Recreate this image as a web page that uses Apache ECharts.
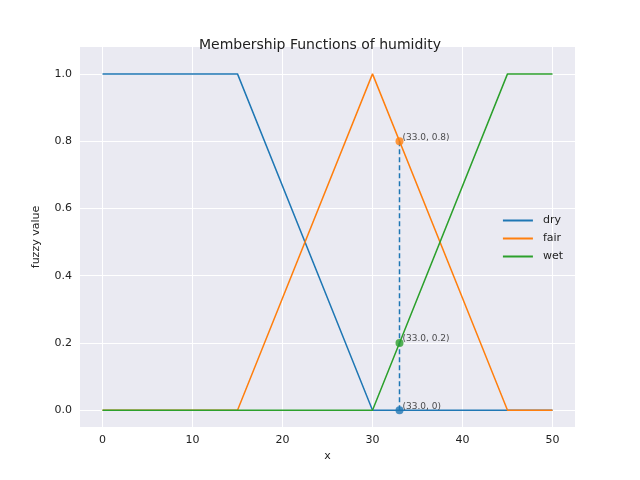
<!DOCTYPE html>
<html>
<head>
<meta charset="utf-8">
<script src="https://cdn.jsdelivr.net/npm/echarts@6/dist/echarts.min.js"></script>
<style>html,body{margin:0;padding:0;background:#fff}#main{width:640px;height:480px}</style>
</head>
<body>
<div id="main"></div>
<script>
var dry = [[0, 1], [15, 1], [30, 0], [50, 0]];
var fair = [[0, 0], [15, 0], [30, 1], [45, 0], [50, 0]];
var wet = [[0, 0], [30, 0], [45, 1], [50, 1]];
var cut = [[33, 0], [33, 0.8]];
var points = [[33, 0.8, '(33.0, 0.8)', '#ff7f0e'], [33, 0.2, '(33.0, 0.2)', '#2ca02c'], [33, 0, '(33.0, 0)', '#1f77b4']];
var xTicks = [0, 10, 20, 30, 40, 50];
var yTicks = [0, 0.2, 0.4, 0.6, 0.8, 1.0];

var font = 'DejaVu Sans';
var chart = echarts.init(document.getElementById('main'));

function lineSeries(name, data, color) {
  return {
    name: name, type: 'line', data: data, symbol: 'none',
    lineStyle: { color: color, width: 1.5 }, itemStyle: { color: color }
  };
}

chart.setOption({
  animation: false,
  textStyle: { fontFamily: font },
  title: {
    text: 'Membership Functions of humidity', left: 'center', top: 33,
    textStyle: { fontSize: 14, fontWeight: 'normal', color: '#222', fontFamily: font }
  },
  legend: {
    data: ['dry', 'fair', 'wet'], orient: 'vertical', right: 72, top: 210,
    icon: 'rect', itemWidth: 30, itemHeight: 2, itemGap: 7,
    textStyle: { fontSize: 11, color: '#222', fontFamily: font, padding: [0, 0, 0, 5] }
  },
  grid: { left: 80, right: 65, top: 47, bottom: 53, show: true, backgroundColor: '#eaeaf2', borderWidth: 0 },
  xAxis: {
    type: 'value', min: -2.5, max: 52.5, name: 'x', nameLocation: 'middle', nameGap: 22,
    nameTextStyle: { fontSize: 11, color: '#222' },
    axisLine: { show: false },
    axisTick: { show: false, customValues: xTicks },
    axisLabel: { customValues: xTicks, fontSize: 11, color: '#222' },
    splitLine: { show: true, lineStyle: { color: '#fff', width: 1 } }
  },
  yAxis: {
    type: 'value', min: -0.05, max: 1.08, name: 'fuzzy value', nameLocation: 'middle', nameGap: 38,
    nameTextStyle: { fontSize: 11, color: '#222' },
    axisLine: { show: false },
    axisTick: { show: false, customValues: yTicks },
    axisLabel: { customValues: yTicks, fontSize: 11, color: '#222', formatter: function (v) { return v.toFixed(1); } },
    splitLine: { show: true, lineStyle: { color: '#fff', width: 1 } }
  },
  series: [
    lineSeries('dry', dry, '#1f77b4'),
    lineSeries('fair', fair, '#ff7f0e'),
    lineSeries('wet', wet, '#2ca02c'),
    {
      type: 'line', data: cut, symbol: 'none', z: 3,
      lineStyle: { color: '#1f77b4', width: 1.5, type: [5, 3] }
    },
    {
      type: 'scatter', symbolSize: 8, z: 4,
      data: points.map(function (p) {
        return { value: [p[0], p[1]], itemStyle: { color: p[3] }, label: { formatter: p[2] } };
      }),
      label: { show: true, position: 'right', offset: [-6, -4], fontSize: 9, color: '#222' }
    }
  ]
});
</script>
</body>
</html>
